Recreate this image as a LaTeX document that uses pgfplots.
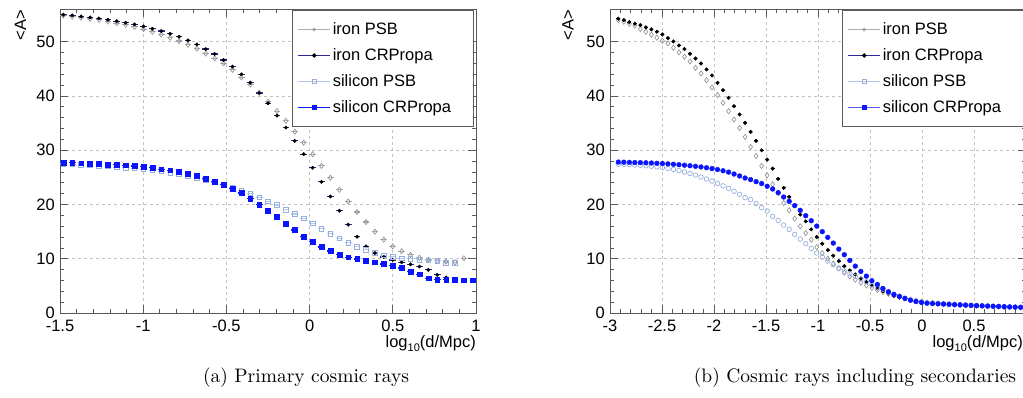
\documentclass[border=0pt]{standalone}
\usepackage{pgfplots}
\pgfplotsset{compat=1.18}
\usepackage{pgfplotstable}
\usepackage{fontspec}
\newfontfamily\helv{Liberation Sans}
\newfontfamily\capfont{lmroman10-regular}[Extension=.otf]
\definecolor{ironpsb}{RGB}{140,140,140}
\definecolor{ironpsbl}{RGB}{175,175,175}
\definecolor{ironcrbar}{RGB}{40,40,150}
\definecolor{sipsb}{RGB}{150,175,225}
\definecolor{sipsbl}{RGB}{180,200,235}
\definecolor{sicr}{RGB}{10,20,255}
\definecolor{gridc}{RGB}{195,195,195}
\definecolor{framec}{RGB}{90,90,90}

% left panel: primary cosmic rays
\pgfplotstableread{
x ironPSB ironCR siPSB siCR
-1.48 54.8 54.93 27.48 27.72
-1.4265 54.6 54.81 27.36 27.72
-1.373 54.4 54.63 27.30 27.60
-1.3195 54.2 54.44 27.17 27.54
-1.266 54.0 54.26 27.11 27.48
-1.2125 53.7 54.01 26.99 27.36
-1.159 53.4 53.77 26.87 27.30
-1.1055 53.1 53.46 26.75 27.24
-1.052 52.7 53.16 26.62 27.06
-0.9985 52.3 52.79 26.44 26.93
-0.945 51.8 52.36 26.25 26.75
-0.8915 51.3 51.93 26.07 26.50
-0.838 50.7 51.44 25.83 26.32
-0.7845 50.1 50.89 25.58 26.01
-0.731 49.4 50.22 25.28 25.70
-0.6775 48.7 49.48 24.91 25.33
-0.624 47.8 48.62 24.54 24.78
-0.5705 46.9 47.70 24.11 24.23
-0.517 46.0 46.60 23.68 23.62
-0.4635 44.8 45.37 23.13 22.95
-0.41 43.4 43.96 22.57 22.10
-0.3565 42.1 42.43 22.02 21.10
-0.303 40.6 40.53 21.29 19.94
-0.2495 38.9 38.64 20.55 18.84
-0.196 37.2 36.36 19.89 17.68
-0.1425 35.4 34.15 19.03 16.51
-0.089 33.4 31.71 18.24 15.29
-0.0355 31.4 29.26 17.40 14.10
0.018 29.26 26.75 16.51 13.14
0.0715 27.11 24.17 15.53 12.16
0.125 24.9 21.47 14.61 11.43
0.1785 22.7 18.84 13.75 10.81
0.232 20.55 16.27 12.96 10.26
0.2855 18.6 14.06 12.22 9.96
0.339 16.76 12.28 11.62 9.65
0.3925 14.98 11.06 11.07 9.34
0.446 13.51 10.33 10.63 9.04
0.4995 12.28 9.77 10.33 8.73
0.553 11.36 9.34 10.07 8.30
0.6065 10.7 8.97 9.96 7.63
0.66 10.2 8.55 9.83 7.14
0.7135 9.83 7.94 9.71 6.40
0.767 9.6 7.02 9.60 6.16
0.8205 9.47 6.53 9.28 6.10
0.874 9.34 6.22 9.22 6.10
0.9275 10.08 nan nan 6.03
0.981 nan nan nan 6.03
}\lefttab

% right panel: cosmic rays including secondaries
\pgfplotstableread{
x ironPSB ironCR siPSB siCR
-2.92 53.97 54.21 27.40 27.80
-2.867 53.66 53.97 27.38 27.78
-2.814 53.29 53.60 27.33 27.75
-2.761 52.92 53.29 27.27 27.72
-2.708 52.31 53.04 27.20 27.70
-2.655 51.81 52.61 27.12 27.67
-2.602 51.26 52.25 27.03 27.63
-2.549 50.71 51.81 26.92 27.58
-2.496 50.15 51.32 26.80 27.53
-2.443 49.66 50.65 26.63 27.47
-2.39 48.86 50.03 26.45 27.40
-2.337 48.00 49.29 26.23 27.32
-2.284 47.20 48.62 25.98 27.23
-2.231 46.34 47.76 25.70 27.13
-2.178 45.17 46.89 25.40 27.02
-2.125 44.13 45.97 25.05 26.90
-2.072 42.90 44.87 24.68 26.76
-2.019 41.54 43.76 24.30 26.60
-1.966 40.13 42.40 23.88 26.42
-1.913 38.71 41.05 23.42 26.20
-1.86 37.18 39.64 22.95 25.95
-1.807 35.64 38.10 22.42 25.60
-1.754 34.10 36.57 21.86 25.24
-1.701 32.44 35.02 21.25 24.87
-1.648 30.59 33.36 20.88 24.57
-1.595 28.93 31.70 20.15 24.20
-1.542 27.09 29.98 19.41 23.84
-1.489 25.37 28.26 18.79 23.34
-1.436 23.71 26.60 17.80 22.84
-1.383 22.11 24.69 17.07 22.17
-1.33 20.26 23.03 16.20 21.37
-1.277 18.91 21.37 15.41 20.57
-1.224 17.38 19.83 14.48 19.78
-1.171 15.96 18.12 13.62 18.91
-1.118 14.72 16.88 12.76 17.93
-1.065 13.50 15.41 11.90 17.00
-1.012 12.14 13.99 11.04 16.01
-0.959 11.04 12.76 10.30 14.98
-0.906 10.00 11.59 9.56 13.93
-0.853 9.08 10.55 8.89 12.88
-0.8 8.21 9.56 8.27 11.77
-0.747 7.42 8.63 7.71 10.74
-0.694 6.73 7.84 7.23 9.69
-0.641 6.13 7.10 6.73 8.63
-0.588 5.57 6.37 6.24 7.66
-0.535 5.07 5.68 5.76 6.79
-0.482 4.65 5.07 5.20 5.94
-0.429 4.21 4.52 4.76 5.26
-0.376 3.84 4.02 4.39 4.52
-0.323 3.54 3.60 3.84 3.91
-0.27 3.25 3.17 3.47 3.41
-0.217 2.97 2.86 3.10 3.04
-0.164 2.70 2.60 2.73 2.68
-0.111 2.45 2.38 2.43 2.36
-0.058 2.25 2.20 2.18 2.12
-0.005 2.07 2.05 2.00 1.94
0.048 1.93 1.93 1.88 1.81
0.101 1.83 1.83 1.80 1.75
0.154 1.75 1.75 1.73 1.70
0.207 1.68 1.68 1.66 1.65
0.26 1.62 1.62 1.60 1.60
0.313 1.56 1.56 1.54 1.55
0.366 1.50 1.50 1.49 1.50
0.419 1.45 1.45 1.44 1.45
0.472 1.40 1.40 1.39 1.40
0.525 1.35 1.35 1.34 1.36
0.578 1.30 1.30 1.30 1.32
0.631 1.26 1.26 1.26 1.28
0.684 1.22 1.22 1.22 1.24
0.737 1.18 1.18 1.18 1.20
0.79 1.14 1.14 1.14 1.16
0.843 1.10 1.10 1.10 1.12
0.896 1.07 1.07 1.07 1.08
0.949 1.04 1.04 1.04 1.05
}\righttab

\pgfplotsset{
  rootaxis/.style={
    scale only axis, width=416pt, height=304pt,
    ymin=0, ymax=56,
    ytick={0,10,20,30,40,50}, yticklabels={0,10,20,30,40,50},
    minor x tick num=4, minor y tick num=4,
    tick align=inside, xtick pos=both, ytick pos=both,
    xticklabel pos=lower, yticklabel pos=left,
    major tick length=8pt, minor tick length=4pt,
    every tick/.style={framec, line width=0.7pt},
    axis line style={framec, line width=0.9pt},
    grid=major,
    major grid style={gridc, dash pattern=on 3pt off 3pt, line width=0.7pt},
    tick label style={font=\helv\fontsize{16.5}{18}\selectfont},
    xticklabel style={inner sep=0pt, anchor=north, yshift=-7pt},
    yticklabel style={inner sep=0pt, anchor=east, xshift=-5pt},
    legend style={at={(0.558,0.997)}, anchor=north west, draw=framec,
      line width=0.8pt, fill=white, font=\helv\fontsize{16.5}{18}\selectfont,
      inner xsep=5pt, inner ysep=10.5pt, row sep=8.5pt},
    legend cell align=left,
    legend image code/.code={\draw[mark repeat=2,mark phase=2,#1] plot coordinates {(0pt,0pt) (16pt,0pt) (32pt,0pt)};},
  }
}

\begin{document}
\begin{tikzpicture}
\useasboundingbox (0,0) rectangle (1023pt,398pt);

% ---------------- left panel ----------------
\begin{axis}[rootaxis, at={(60pt,85pt)}, anchor=south west,
  xmin=-1.5, xmax=1,
  xtick={-1.5,-1,-0.5,0,0.5,1}, xticklabels={-1.5,-1,-0.5,0,0.5,1}]
\addplot[only marks, forget plot, mark=diamond, mark size=2.6pt,
  mark options={draw=ironpsb, fill=white, line width=0.6pt},
  error bars/.cd, x dir=both, x fixed=0.02, error mark=none,
  error bar style={ironpsbl, line width=1.1pt}]
  table[x=x, y=ironPSB] {\lefttab};
\addplot[only marks, forget plot, mark=*, mark size=1.7pt,
  mark options={draw=black, fill=black},
  error bars/.cd, x dir=both, x fixed=0.02, error mark=none,
  error bar style={ironcrbar, line width=1.2pt}]
  table[x=x, y=ironCR] {\lefttab};
\addplot[only marks, forget plot, mark=square, mark size=2.3pt,
  mark options={draw=sipsb, fill=white, line width=0.7pt},
  error bars/.cd, x dir=both, x fixed=0.02, error mark=none,
  error bar style={sipsbl, line width=1.1pt}]
  table[x=x, y=siPSB] {\lefttab};
\addplot[only marks, forget plot, mark=square*, mark size=2.4pt,
  mark options={draw=sicr, fill=sicr},
  error bars/.cd, x dir=both, x fixed=0.02, error mark=none,
  error bar style={sicr, line width=1.2pt}]
  table[x=x, y=siCR] {\lefttab};
\addlegendimage{color=ironpsbl, line width=1.3pt, mark=o, mark size=1.6pt, mark options={draw=ironpsb, fill=white, line width=0.5pt}}
\addlegendentry{iron PSB}
\addlegendimage{color=ironcrbar, line width=1.3pt, mark=*, mark size=1.5pt, mark options={draw=black, fill=black}}
\addlegendentry{iron CRPropa}
\addlegendimage{color=sipsbl, line width=1.3pt, mark=square, mark size=1.8pt, mark options={draw=sipsb, fill=white, line width=0.5pt}}
\addlegendentry{silicon PSB}
\addlegendimage{color=sicr, line width=1.3pt, mark=square*, mark size=1.8pt, mark options={draw=sicr, fill=sicr}}
\addlegendentry{silicon CRPropa\hspace*{15pt}}
\end{axis}

% ---------------- right panel ----------------
\begin{axis}[rootaxis, at={(610pt,85pt)}, anchor=south west,
  xmin=-3, xmax=1,
  xtick={-3,-2.5,-2,-1.5,-1,-0.5,0,0.5,1}, xticklabels={-3,-2.5,-2,-1.5,-1,-0.5,0,0.5,{}}]
\addplot[only marks, forget plot, mark=diamond, mark size=2.6pt,
  mark options={draw=ironpsb, fill=white, line width=0.6pt}]
  table[x=x, y=ironPSB] {\righttab};
\addplot[only marks, forget plot, mark=*, mark size=1.8pt,
  mark options={draw=black, fill=black},
  error bars/.cd, x dir=both, x fixed=0.018, error mark=none,
  error bar style={black, line width=1pt}]
  table[x=x, y=ironCR] {\righttab};
\addplot[only marks, forget plot, mark=o, mark size=2.3pt,
  mark options={draw=sipsb, fill=white, line width=0.7pt}]
  table[x=x, y=siPSB] {\righttab};
\addplot[only marks, forget plot, mark=*, mark size=2.4pt,
  mark options={draw=sicr, fill=sicr}]
  table[x=x, y=siCR] {\righttab};
\addlegendimage{color=ironpsbl, line width=1.3pt, mark=o, mark size=1.6pt, mark options={draw=ironpsb, fill=white, line width=0.5pt}}
\addlegendentry{iron PSB}
\addlegendimage{color=ironcrbar, line width=1.3pt, mark=*, mark size=1.5pt, mark options={draw=black, fill=black}}
\addlegendentry{iron CRPropa}
\addlegendimage{color=sipsbl, line width=1.3pt, mark=square, mark size=1.8pt, mark options={draw=sipsb, fill=white, line width=0.5pt}}
\addlegendentry{silicon PSB}
\addlegendimage{color=sicr!70, line width=1.3pt, mark=square*, mark size=1.8pt, mark options={draw=sicr, fill=sicr}}
\addlegendentry{silicon CRPropa\hspace*{15pt}}
\end{axis}

% axis titles
\node[rotate=90, anchor=east, inner sep=0pt, font=\helv\fontsize{16.5}{18}\selectfont] at (20.5pt,388pt) {<A>};
\node[rotate=90, anchor=east, inner sep=0pt, font=\helv\fontsize{16.5}{18}\selectfont] at (568pt,388pt) {<A>};
\node[anchor=base east, inner sep=0pt, font=\helv\fontsize{16.5}{18}\selectfont] at (476pt,50pt) {log\raisebox{-0.45ex}{\fontsize{11}{12}\selectfont 10}(d/Mpc)};
\node[anchor=base east, inner sep=0pt, font=\helv\fontsize{16.5}{18}\selectfont] at (1023pt,50pt) {log\raisebox{-0.45ex}{\fontsize{11}{12}\selectfont 10}(d/Mpc)};

% sub-captions
\node[anchor=base, inner sep=0pt, font=\capfont\fontsize{19.5}{23}\selectfont] at (306pt,15pt) {(a) Primary cosmic rays};
\node[anchor=base, inner sep=0pt, font=\capfont\fontsize{19.5}{23}\selectfont] at (855pt,15pt) {(b) Cosmic rays including secondaries};
\end{tikzpicture}
\end{document}
